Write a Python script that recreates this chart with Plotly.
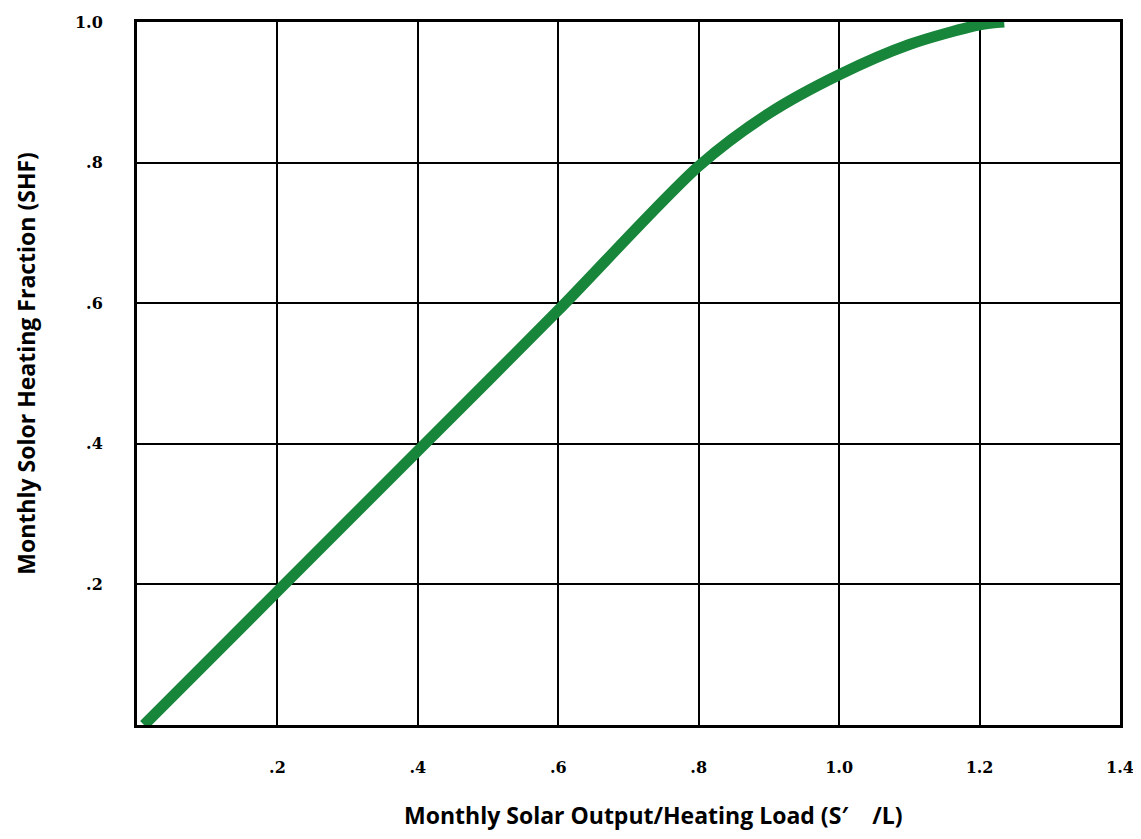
import plotly.graph_objects as go

# Curve values
ratio = [0.01, 0.2, 0.4, 0.6, 0.8, 0.9, 1.0, 1.1, 1.2, 1.235]
shf = [0.0, 0.19, 0.39, 0.59, 0.795, 0.870, 0.925, 0.968, 0.996, 1.0]

x_tickvals = [0.2, 0.4, 0.6, 0.8, 1.0, 1.2, 1.4]
x_ticktext = [".2", ".4", ".6", ".8", "1.0", "1.2", "1.4"]
y_tickvals = [0.2, 0.4, 0.6, 0.8, 1.0]
y_ticktext = [".2", ".4", ".6", ".8", "1.0"]

x_title = "Monthly Solar Output/Heating Load (S\u2032    /L)"
y_title = "Monthly Solor Heating Fraction (SHF)"

fig = go.Figure()
fig.add_trace(go.Scatter(
    x=ratio, y=shf, mode="lines",
    line=dict(color="#17853a", width=11, shape="spline", smoothing=0.8),
    hoverinfo="skip", showlegend=False,
))

tick_font = dict(family="DejaVu Serif", size=16, color="black", weight="bold")

fig.update_xaxes(
    range=[0, 1.4], tickvals=x_tickvals, ticktext=x_ticktext,
    showgrid=True, gridcolor="black", gridwidth=2,
    showline=True, linecolor="black", linewidth=3, mirror=True,
    zeroline=False, ticks="", ticklabelstandoff=26,
    tickfont=tick_font, automargin=False,
)
fig.update_yaxes(
    range=[0, 1.0], tickvals=y_tickvals, ticktext=y_ticktext,
    showgrid=True, gridcolor="black", gridwidth=2,
    showline=True, linecolor="black", linewidth=3, mirror=True,
    zeroline=False, ticks="", ticklabelstandoff=28,
    tickfont=tick_font, automargin=False,
)

title_font = dict(family="Open Sans", size=23, color="black", weight="bold")
fig.add_annotation(
    text=x_title, xref="paper", yref="paper", x=0.525, y=0,
    xanchor="center", yanchor="middle", yshift=-90,
    showarrow=False, font=title_font,
)
fig.add_annotation(
    text=y_title, xref="paper", yref="paper", x=0, y=0.514,
    xanchor="center", yanchor="middle", xshift=-111, textangle=-90,
    showarrow=False, font=title_font,
)

fig.update_layout(
    width=1133, height=831,
    margin=dict(l=129, r=21, t=14, b=114),
    paper_bgcolor="white", plot_bgcolor="white",
)

fig.write_html("out.html")
